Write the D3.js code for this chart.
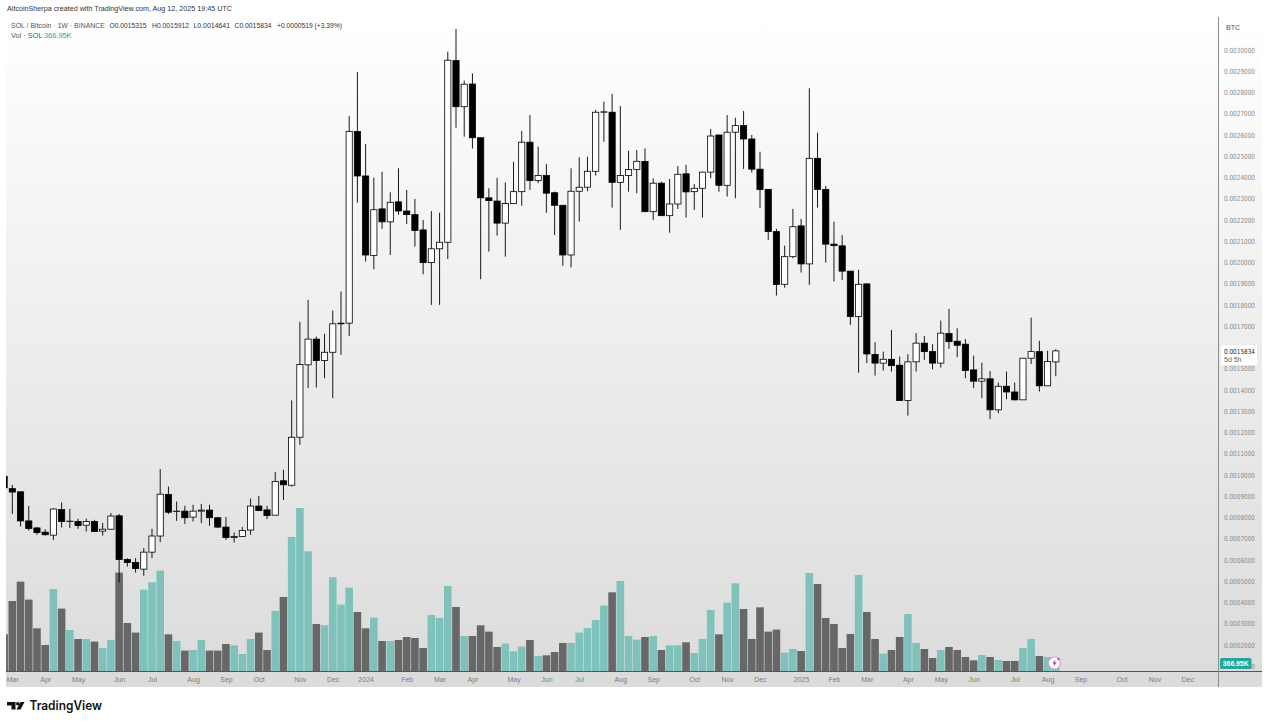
<!DOCTYPE html>
<html><head><meta charset="utf-8">
<script src="https://cdn.jsdelivr.net/npm/d3@7/dist/d3.min.js"></script>
<style>html,body{margin:0;padding:0;background:#fff;overflow:hidden}svg{display:block}text{font-family:"Liberation Sans",Arial,sans-serif}</style>
</head><body><svg id="c" width="1269" height="724"></svg>
<script>
// Prices in units of 0.0001 BTC, one entry per week
const open=[9.93,9.35,9.20,7.83,7.50,7.30,7.16,8.37,7.81,7.80,
7.63,7.80,7.35,7.44,8.07,6.01,5.87,5.56,6.36,7.12,
9.08,8.28,8.29,8.01,8.29,8.34,7.98,7.54,7.05,7.10,
7.40,8.53,8.35,8.10,9.72,9.51,11.77,15.18,16.39,15.38,
15.77,17.11,17.14,26.16,24.07,20.33,22.52,21.91,22.85,22.42,
22.25,21.53,19.99,20.64,20.95,29.50,27.33,28.40,25.87,23.04,
22.89,21.85,22.77,23.33,25.66,23.85,24.09,23.28,22.69,20.35,
23.35,23.54,24.29,27.07,27.07,23.77,24.09,24.37,24.75,22.39,
23.73,22.20,22.75,24.17,23.33,23.49,24.25,26.00,23.63,26.13,
26.44,25.81,24.39,23.44,21.45,18.97,20.27,21.72,19.93,24.90,
23.44,20.86,20.78,19.59,17.45,18.99,15.67,15.26,15.44,15.16,
13.50,15.32,16.20,15.80,15.26,16.65,16.29,16.15,14.94,14.41,
14.52,13.06,14.17,13.90,13.53,15.49,15.80,14.19,15.315];
const close=[9.39,9.19,7.83,7.47,7.28,7.18,8.39,7.80,7.82,7.61,
7.80,7.33,7.44,8.06,6.01,5.87,5.59,6.36,7.12,9.09,
8.24,8.29,7.98,8.29,8.34,7.98,7.54,7.05,7.10,7.38,
8.53,8.32,8.08,9.69,9.53,11.77,15.19,16.39,15.38,15.77,
17.11,17.14,26.17,24.07,20.35,22.48,21.91,22.83,22.42,22.25,
21.50,19.99,20.64,20.95,29.52,27.33,28.39,25.87,23.04,22.91,
21.85,22.77,23.33,25.66,23.85,24.09,23.26,22.69,20.35,23.35,
23.54,24.29,27.07,27.09,23.77,24.09,24.37,24.76,22.39,23.73,
22.20,22.75,24.15,23.32,23.49,24.25,25.95,23.63,26.13,26.44,
25.81,24.39,23.43,21.45,18.96,20.27,21.68,19.93,24.90,23.44,
20.86,20.79,19.59,17.45,18.97,15.69,15.26,15.44,15.14,13.50,
15.32,16.20,15.80,15.26,16.67,16.27,16.10,14.91,14.41,14.52,
13.06,14.17,13.90,13.53,15.49,15.80,14.19,15.33,15.834];
const high=[9.93,9.53,9.20,8.54,7.55,7.44,8.42,8.70,8.40,7.93,
7.94,7.88,7.74,8.20,8.16,6.07,6.08,6.55,7.46,10.27,
9.45,8.74,8.54,8.59,8.63,8.59,7.98,8.01,7.28,7.54,
8.88,9.01,8.54,10.13,10.24,13.50,17.20,18.24,16.51,16.64,
17.73,18.63,26.89,28.96,25.58,23.99,24.27,23.30,24.43,23.41,
22.99,22.00,22.42,22.34,29.92,30.99,28.56,28.90,25.87,23.49,
23.98,23.76,24.74,26.19,26.94,25.45,24.64,23.33,22.69,24.43,
24.95,24.98,27.18,27.57,27.93,27.36,25.25,25.29,25.37,23.96,
23.80,23.93,24.54,24.60,23.69,24.27,26.28,26.00,26.94,26.81,
27.13,26.00,25.21,23.45,21.58,20.79,22.52,22.05,28.20,26.11,
23.60,21.92,21.29,19.59,19.65,19.00,16.24,15.80,16.82,15.57,
15.68,16.67,16.54,16.15,17.26,17.81,16.90,16.39,15.61,15.28,
14.89,14.34,14.86,14.34,15.49,17.40,16.31,15.84,15.912];
const low=[9.39,8.16,7.57,7.38,7.18,7.14,6.94,7.52,7.50,7.46,
7.33,7.33,7.14,7.44,4.93,5.68,5.40,5.25,6.08,6.83,
8.16,7.83,7.69,7.80,7.73,7.60,7.49,6.94,6.81,7.07,
7.18,8.29,7.92,8.10,8.82,9.45,11.41,14.08,14.11,14.55,
13.61,15.65,16.54,22.81,20.04,19.68,21.58,20.35,22.24,21.81,
20.74,19.44,18.00,18.00,20.16,26.34,25.92,25.36,19.21,20.51,
21.26,20.27,22.77,22.67,23.41,23.73,22.34,21.29,19.84,19.77,
21.92,23.35,24.09,25.68,22.58,21.53,23.33,23.26,22.36,22.00,
22.20,21.40,22.52,22.11,22.47,22.11,23.96,23.33,23.10,23.02,
24.40,24.23,22.55,21.06,18.44,18.81,20.20,19.52,18.94,22.58,
19.99,19.10,19.18,17.06,14.81,15.26,14.67,14.91,14.86,13.50,
12.79,14.86,15.41,14.97,15.05,15.93,15.54,14.55,14.08,13.61,
12.62,12.90,13.56,13.50,13.53,15.22,13.92,14.19,14.641];
// Weekly volume in thousands of SOL
const volume=[1702,3234,4126,3298,1978,1210,3786,2884,1900,1486,
1486,1366,1072,1440,4540,2222,1780,3758,4094,4632,
1702,1394,952,980,1440,952,952,1256,1196,796,
1486,1780,980,2783,3418,6178,7512,5520,2176,2116,
4324,3068,3850,2728,1978,2470,1394,1394,1440,1578,
1532,1072,2590,2452,3924,2958,1624,1624,2116,1826,
1118,1274,920,1136,1440,704,736,888,1302,1302,
1780,1992,2360,3022,3634,4154,1624,1458,1578,1624,
980,1196,1196,1334,842,1486,2820,1702,3160,4048,
2866,1486,2944,1826,1918,860,1026,934,4522,4016,
2452,2176,1072,1716,4430,2728,1486,814,980,1578,
2636,1302,1026,612,980,1118,980,658,506,750,
658,520,474,474,1072,1486,704,658,366.95];
const timeLabels=["Mar","Apr","May","Jun","Jul","Aug","Sep","Oct","Nov","Dec","2024","Feb","Mar","Apr","May","Jun","Jul","Aug","Sep","Oct","Nov","Dec","2025","Feb","Mar","Apr","May","Jun","Jul","Aug","Sep","Oct","Nov","Dec"];
const timeIndex=[1,5,9,14,18,23,27,31,36,40,44,49,53,57,62,66,70,75,79,84,88,92,97,101,105,110,114,118,123,127,131,136,140,144];
const priceTicks=d3.range(1,31);

const F={L:6,R:1218.5,Rout:1262,T:17,B:671.5,Bout:687};
const svg=d3.select("#c");
const defs=svg.append("defs");
const g=defs.append("linearGradient").attr("id","bg").attr("x1",0).attr("x2",0).attr("y1",0).attr("y2",1);
g.append("stop").attr("offset",0).attr("stop-color","#ffffff");
g.append("stop").attr("offset",1).attr("stop-color","#dbdbdb");
defs.append("clipPath").attr("id","plot").append("rect").attr("x",F.L).attr("y",F.T).attr("width",F.R-F.L).attr("height",F.B-F.T);
svg.append("rect").attr("x",F.L).attr("y",F.T).attr("width",F.Rout-F.L).attr("height",F.Bout-F.T).attr("fill","url(#bg)");

const x=d3.scaleLinear().domain([0,128]).range([4.1,1055.8]);
const y=d3.scaleLinear().domain([1,30]).range([666,50]);
const yv=d3.scaleLinear().domain([0,7512]).range([671.3,508]);
const idx=d3.range(open.length);
const isUp=i=>close[i]>=open[i];

const plot=svg.append("g").attr("clip-path","url(#plot)");
const volW=7.6, bodyW=6.2;
plot.append("g").selectAll("rect").data(idx).join("rect")
 .attr("x",i=>x(i)-volW/2).attr("width",volW)
 .attr("y",i=>yv(volume[i])).attr("height",i=>yv(0)-yv(volume[i]))
 .attr("fill",i=>isUp(i)?"#7fc2bb":"#676767");
plot.append("g").selectAll("line").data(idx).join("line")
 .attr("x1",i=>x(i)).attr("x2",i=>x(i)).attr("y1",i=>y(high[i])).attr("y2",i=>y(low[i]))
 .attr("stroke","#000").attr("stroke-width",0.9);
plot.append("g").selectAll("rect").data(idx).join("rect")
 .attr("x",i=>x(i)-bodyW/2).attr("width",bodyW)
 .attr("y",i=>y(Math.max(open[i],close[i])))
 .attr("height",i=>Math.max(0.3,Math.abs(y(open[i])-y(close[i]))))
 .attr("fill",i=>isUp(i)?"#fff":"#000").attr("stroke","#000").attr("stroke-width",0.8);

// price axis
const ay=svg.append("g").attr("transform",`translate(${F.R},0)`)
 .call(d3.axisRight(y).tickValues(priceTicks).tickSize(0).tickPadding(5.5).tickFormat(v=>(v*1e-4).toFixed(7)));
ay.select(".domain").remove();
ay.selectAll("text").attr("font-size",7).attr("fill","#8a8a8a").style("font-family","'DejaVu Sans',sans-serif").attr("textLength",31).attr("lengthAdjust","spacingAndGlyphs");

// time axis
const at=svg.append("g").attr("transform",`translate(0,${F.B})`)
 .call(d3.axisBottom(x).tickValues(timeIndex).tickSize(0).tickPadding(5.5).tickFormat((d,i)=>timeLabels[i]));
at.select(".domain").remove();
at.selectAll("text").attr("font-size",7).attr("fill","#7c7c7c");

// frame lines
svg.append("line").attr("x1",F.L).attr("x2",F.Rout).attr("y1",F.B).attr("y2",F.B).attr("stroke","#555");
svg.append("line").attr("x1",F.R).attr("x2",F.R).attr("y1",F.T).attr("y2",F.Bout).attr("stroke","#8c8c8c");

// BTC badge
svg.append("rect").attr("x",1222).attr("y",19).attr("width",39).attr("height",15).attr("rx",2).attr("fill","#fff");
svg.append("text").attr("x",1226).attr("y",29.5).attr("font-size",7).attr("fill","#555").text("BTC");

// last price label
svg.append("rect").attr("x",1221).attr("y",345).attr("width",36).attr("height",20).attr("fill","#fff");
svg.append("text").attr("x",1224).attr("y",354).attr("font-size",7).attr("fill","#222").style("font-family","'DejaVu Sans',sans-serif").attr("textLength",31).attr("lengthAdjust","spacingAndGlyphs").text("0.0015834");
svg.append("text").attr("x",1224).attr("y",362).attr("font-size",7).attr("fill","#666").text("5d 5h");

// volume label
svg.append("rect").attr("x",1220).attr("y",658).attr("width",31.5).attr("height",11).attr("rx",1.5).attr("fill","#27a69a");
svg.append("text").attr("x",1235.7).attr("y",666).attr("text-anchor","middle").attr("font-size",6.8).attr("font-weight","bold").attr("fill","#fff").text("366.95K");

// header
svg.append("text").attr("x",7).attr("y",11).attr("font-size",7.6).attr("fill","#333").attr("textLength",225).attr("lengthAdjust","spacingAndGlyphs").text("AltcoinSherpa created with TradingView.com, Aug 12, 2025 19:45 UTC");
svg.append("text").attr("x",11).attr("y",27.5).attr("font-size",7.4).attr("fill","#555").attr("textLength",94).attr("lengthAdjust","spacingAndGlyphs").text("SOL / Bitcoin · 1W · BINANCE");
const ohlc=[[109.5,37,"O0.0015315"],[152,37,"H0.0015912"],[193.5,36.5,"L0.0014641"],[234.5,37,"C0.0015834"],[277,65,"+0.0000519 (+3.39%)"]];
ohlc.forEach(d=>svg.append("text").attr("x",d[0]).attr("y",27.5).attr("font-size",7.4).attr("fill","#333").attr("textLength",d[1]).attr("lengthAdjust","spacingAndGlyphs").text(d[2]));
svg.append("text").attr("x",11).attr("y",37.5).attr("font-size",7.4).attr("fill","#555").text("Vol · SOL");
svg.append("text").attr("x",44).attr("y",37.5).attr("font-size",7.4).attr("fill","#2f9d92").text("366.95K");

// flash badge
const b=svg.append("g").attr("transform","translate(1054.5,663)");
b.append("circle").attr("r",6).attr("fill","#fff").attr("stroke","#d7a6dc").attr("stroke-width",1.2);
b.append("path").attr("d","M1,-3.5 L-2,0.6 L-0.2,0.6 L-1,3.5 L2,-0.6 L0.2,-0.6 Z").attr("fill","#7a3d92");
b.append("circle").attr("cx",4).attr("cy",-4).attr("r",1.2).attr("fill","#e0506a");

// TradingView logo
const l=svg.append("g").attr("fill","#111");
l.append("path").attr("d","M7,702 H15.5 V709.5 H11.5 V705.5 H7 Z");
l.append("circle").attr("cx",17.8).attr("cy",703.8).attr("r",1.8);
l.append("path").attr("d","M20.5,702 H24.5 L20.5,709.5 H16.5 Z");
svg.append("text").attr("x",29.5).attr("y",710).attr("font-size",12.6).attr("font-weight","600").attr("fill","#111").attr("textLength",72.5).attr("lengthAdjust","spacingAndGlyphs").style("font-family","Inter,'Liberation Sans',sans-serif").text("TradingView");
</script></body></html>
